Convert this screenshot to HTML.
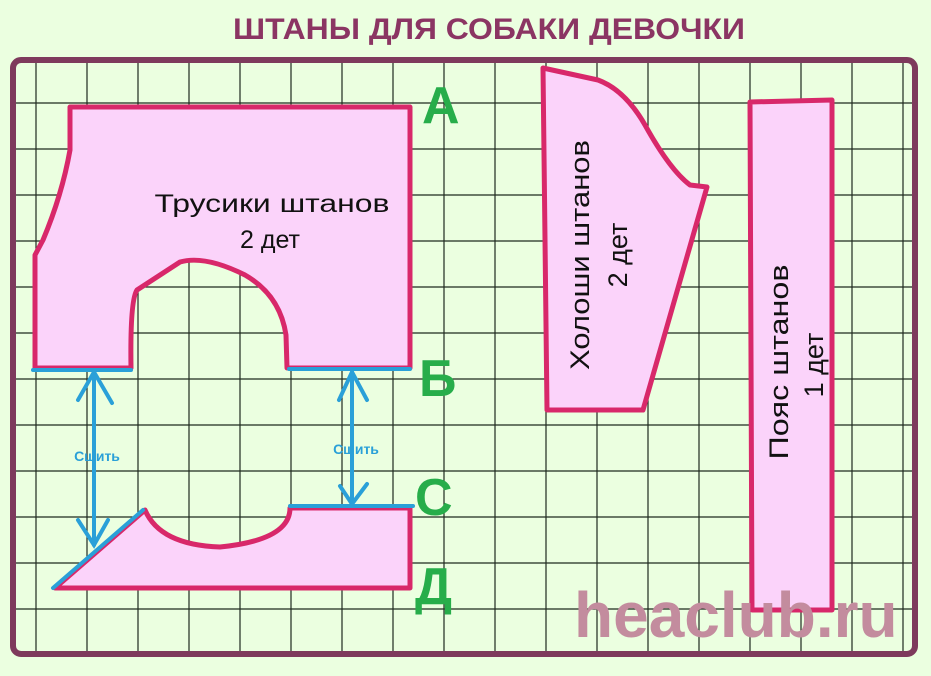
<!DOCTYPE html>
<html><head><meta charset="utf-8"><style>
body{margin:0;width:931px;height:671px;overflow:hidden;background:#ebffe0;font-family:"Liberation Sans",sans-serif}
</style></head><body>
<svg width="931" height="671" xmlns="http://www.w3.org/2000/svg">
<rect width="931" height="671" fill="#ebffe0"/>
<g stroke="#1f2a1f" stroke-width="1.2">
<line x1="36" y1="62" x2="36" y2="655"/><line x1="87" y1="62" x2="87" y2="655"/><line x1="138" y1="62" x2="138" y2="655"/><line x1="189" y1="62" x2="189" y2="655"/><line x1="240" y1="62" x2="240" y2="655"/><line x1="291" y1="62" x2="291" y2="655"/><line x1="342" y1="62" x2="342" y2="655"/><line x1="393" y1="62" x2="393" y2="655"/><line x1="444" y1="62" x2="444" y2="655"/><line x1="495" y1="62" x2="495" y2="655"/><line x1="546" y1="62" x2="546" y2="655"/><line x1="597" y1="62" x2="597" y2="655"/><line x1="648" y1="62" x2="648" y2="655"/><line x1="699" y1="62" x2="699" y2="655"/><line x1="750" y1="62" x2="750" y2="655"/><line x1="801" y1="62" x2="801" y2="655"/><line x1="852" y1="62" x2="852" y2="655"/><line x1="903" y1="62" x2="903" y2="655"/>
<line x1="14" y1="103" x2="915" y2="103"/><line x1="14" y1="149" x2="915" y2="149"/><line x1="14" y1="195" x2="915" y2="195"/><line x1="14" y1="241" x2="915" y2="241"/><line x1="14" y1="287" x2="915" y2="287"/><line x1="14" y1="333" x2="915" y2="333"/><line x1="14" y1="379" x2="915" y2="379"/><line x1="14" y1="425" x2="915" y2="425"/><line x1="14" y1="471" x2="915" y2="471"/><line x1="14" y1="517" x2="915" y2="517"/><line x1="14" y1="563" x2="915" y2="563"/><line x1="14" y1="609" x2="915" y2="609"/>
</g>
<rect x="13" y="60" width="902" height="594" rx="8" fill="none" stroke="#7e3a5c" stroke-width="6"/>
<text x="489" y="39" text-anchor="middle" font-size="30" font-weight="bold" fill="#8b3563" textLength="512" lengthAdjust="spacingAndGlyphs">ШТАНЫ ДЛЯ СОБАКИ ДЕВОЧКИ</text>
<g fill="#fbd3fa" stroke="#d8286a" stroke-width="5" stroke-linejoin="round">
<path d="M70,107 L410,107 L410,368 L287,368 L286,335 Q280,295 245,275 Q205,255 180,262 L137,290 Q130,300 131,368 L35,368 L35,255 L43,240 Q62,195 70,150 Z"/>
<path d="M55,588 L410,588 L410,508 L290,508 Q290,540 220,547 Q160,545 145,510 Z"/>
<path d="M543,68 L598,80 Q625,90 645,125 Q670,170 690,185 L707,187 L643,410 L547,410 Z"/>
<path d="M750,102 L832,100 L832,610 L752,610 Z"/>
</g>
<g stroke="#2aa0d8" stroke-width="4" fill="none" stroke-linecap="round">
<line x1="33" y1="370" x2="131" y2="370"/><line x1="289" y1="369" x2="410" y2="369"/>
<line x1="290" y1="506" x2="413" y2="506"/><line x1="53" y1="588" x2="143" y2="510"/>
<line x1="94" y1="372" x2="94" y2="545"/><polyline points="78,400 94,372 112,403"/><polyline points="78,520 94,545 108,520"/>
<line x1="352" y1="372" x2="352" y2="504"/><polyline points="339,400 352,372 367,400"/><polyline points="340,486 352,504 367,484"/>
</g>
<text x="97" y="461" text-anchor="middle" font-size="14" font-weight="bold" fill="#2aa0d8">Сшить</text>
<text x="356" y="454" text-anchor="middle" font-size="14" font-weight="bold" fill="#2aa0d8">Сшить</text>
<text x="272" y="212" text-anchor="middle" font-size="25" fill="#111" textLength="235" lengthAdjust="spacingAndGlyphs">Трусики штанов</text>
<text x="270" y="248" text-anchor="middle" font-size="25" fill="#111">2 дет</text>
<text transform="translate(589,255) rotate(-90)" text-anchor="middle" font-size="27" fill="#111" textLength="230" lengthAdjust="spacingAndGlyphs">Холоши штанов</text>
<text transform="translate(627,255) rotate(-90)" text-anchor="middle" font-size="27" fill="#111">2 дет</text>
<text transform="translate(788,362) rotate(-90)" text-anchor="middle" font-size="27" fill="#111" textLength="195" lengthAdjust="spacingAndGlyphs">Пояс штанов</text>
<text transform="translate(823,365) rotate(-90)" text-anchor="middle" font-size="27" fill="#111">1 дет</text>
<g font-size="52" font-weight="bold" fill="#27ad4a">
<text x="422" y="123">А</text><text x="419" y="396">Б</text><text x="415" y="515">С</text><text x="415" y="604">Д</text>
</g>
<text x="574" y="637" font-size="64" font-weight="bold" fill="#c38c9e">heaclub.ru</text>
</svg>
</body></html>
